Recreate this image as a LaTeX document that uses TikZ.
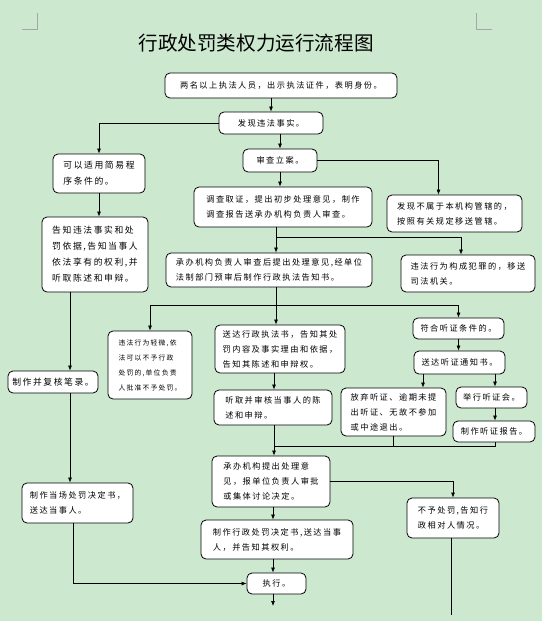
\documentclass[tikz,border=0pt]{standalone}
\usepackage{fontspec}
\newfontfamily\cjk{Noto Sans CJK SC}
\newfontfamily\cjkls{Noto Sans CJK SC}[LetterSpace=18]
\usetikzlibrary{arrows.meta,calc}
\definecolor{bg}{RGB}{204,232,207}
\tikzset{
  box/.style={draw=black, line width=0.8pt, fill=white, rounded corners=5pt, inner sep=0pt, align=left, font=\cjkls\fontsize{8.2}{15}\selectfont},
  bigt/.style={font=\cjkls\fontsize{8.8}{16}\selectfont},
  smallt/.style={font=\cjkls\fontsize{6.8}{15}\selectfont},
  arr/.style={-{Latex[length=5pt,width=4pt]}, line width=0.7pt},
  ln/.style={line width=0.7pt},
  cornermark/.style={gray!70, line width=0.6pt}
}
\newcommand\bx[7][]{\node[box,#1, minimum width={#5-#3}, minimum height={#6-#4}] (#2) at ({(#3+#5)/2},{(#4+#6)/2}) {#7};}
\begin{document}
\begin{tikzpicture}[x=1pt,y=-1pt]
\fill[bg] (0,0) rectangle (542,621);
\useasboundingbox (0,0) rectangle (542,621);
\draw[cornermark] (22,29) -- (37,29) -- (37,13);
\draw[cornermark] (476,13) -- (476,29) -- (492,29);
\node (title) at (256,43) {\cjk\fontsize{19.6}{20}\selectfont 行政处罚类权力运行流程图};
\bx{b1}{165}{73}{397}{98}{两名以上执法人员，出示执法证件，表明身份。}
\bx{b2}{219}{112}{323}{134}{发现违法事实。}
\bx[bigt]{b3}{53}{154}{145}{193}{可以适用简易程\\序条件的。}
\bx{b4}{243}{149}{317}{172}{审查立案。}
\bx{b5}{194}{187}{372}{227}{调查取证，提出初步处理意见，制作\\调查报告送承办机构负责人审查。}
\bx{b6}{387}{195}{522}{232}{发现不属于本机构管辖的，\\按照有关规定移送管辖。}
\bx[bigt]{b7}{42}{217}{148}{292}{告知违法事实和处\\罚依据,告知当事人\\依法享有的权利,并\\听取陈述和申辩。}
\bx{b8}{166}{253}{372}{287}{承办机构负责人审查后提出处理意见,经单位\\法制部门预审后制作行政执法告知书。}
\bx{b9}{401}{255}{535}{292}{违法行为构成犯罪的，移送\\司法机关。}
\bx[smallt]{b10}{108}{331}{192}{399}{违法行为轻微,依\\法可以不予行政\\处罚的,单位负责\\人批准不予处罚。}
\bx{b11}{215}{325}{345}{373}{送达行政执法书，告知其处\\罚内容及事实理由和依据，\\告知其陈述和申辩权。}
\bx{b12}{214}{390}{332}{425}{听取并审核当事人的陈\\述和申辩。}
\bx{b13}{413}{318}{504}{339}{符合听证条件的。}
\bx{b14}{414}{351}{505}{374}{送达听证通知书。}
\bx{b15}{341}{388}{446}{436}{放弃听证、逾期未提\\出听证、无故不参加\\或中途退出。}
\bx{b16}{456}{387}{527}{408}{举行听证会。}
\bx{b17}{453}{421}{535}{442}{制作听证报告。}
\bx[bigt]{b18}{8}{371}{98}{393}{制作并复核笔录。}
\bx{b19}{212}{456}{330}{507}{承办机构提出处理意\\见，报单位负责人审批\\或集体讨论决定。}
\bx{b20}{201}{520}{353}{559}{制作行政处罚决定书,送达当事\\人，并告知其权利。}
\bx{b21}{247}{573}{306}{594}{执行。}
\bx{b22}{22}{483}{133}{523}{制作当场处罚决定书，\\送达当事人。}
\bx{b23}{407}{498}{499}{538}{不予处罚,告知行\\政相对人情况。}
% coordinates
\coordinate (sp) at (276,0);
\coordinate (sp2) at (274,0);
\coordinate (sp3) at (273,0);
\coordinate (lx) at (70,0);
\coordinate (h1) at (423,0);
\coordinate (h2) at (495,0);
\coordinate (j1) at (276,237);
\coordinate (j2) at (276,305);
\coordinate (j3) at (274,446);
\coordinate (e1) at (273,606);
\coordinate (e2) at (451,615);
% connectors
\draw[arr] (b2.north |- b1.south) -- (b2.north);
\draw[arr] (b2.south -| b4.north) -- (b4.north);
\draw[arr] (b2.west) -| (b3.north);
\draw[arr] (b4.east) -| ($(b6.north)+(-16,0)$);
\draw[arr] (b4.south) -- (b4.south |- b5.north);
\draw[arr] (b5.south -| sp) -- (b8.north -| sp);
\draw[arr] (j1) -| ($(b9.north)+(-7,0)$);
\draw[arr] (b3.south) -- (b3.south |- b7.north);
\draw[arr] (b7.south -| lx) -- (b18.north -| lx);
\draw[arr] (b18.south -| lx) -- (b22.north -| lx);
\draw[arr] ($(b22.south -| lx)+(3,0)$) |- (b21.west);
\draw[ln] (b8.south -| sp) -- (j2);
\draw[arr] (j2) -| (b10.north);
\draw[arr] (j2) -| (b13.north);
\draw[arr] (j2) -- (b11.north -| sp);
\draw[arr] (b11.south -| sp2) -- (b12.north -| sp2);
\draw[arr] (b12.south -| sp2) -- (b19.north -| sp2);
\draw[arr] (b13.south) -- (b13.south |- b14.north);
\draw[arr] (b14.south -| h1) -- (b15.north -| h1);
\draw[arr] (b14.south -| h2) -- (b16.north -| h2);
\draw[arr] (b16.south -| h2) -- (b17.north -| h2);
\draw[ln] (b17.south -| h2) |- (j3);
\draw[ln] (b15.south) -- (b15.south |- j3);
\draw[arr] (b19.east) -| (b23.north);
\draw[arr] (b19.south -| sp3) -- (b20.north -| sp3);
\draw[arr] (b20.south -| sp3) -- (b21.north -| sp3);
\draw[arr] (b21.south -| e1) -- (e1);
\draw[ln] (b23.south -| e2) -- (e2);
\end{tikzpicture}
\end{document}
